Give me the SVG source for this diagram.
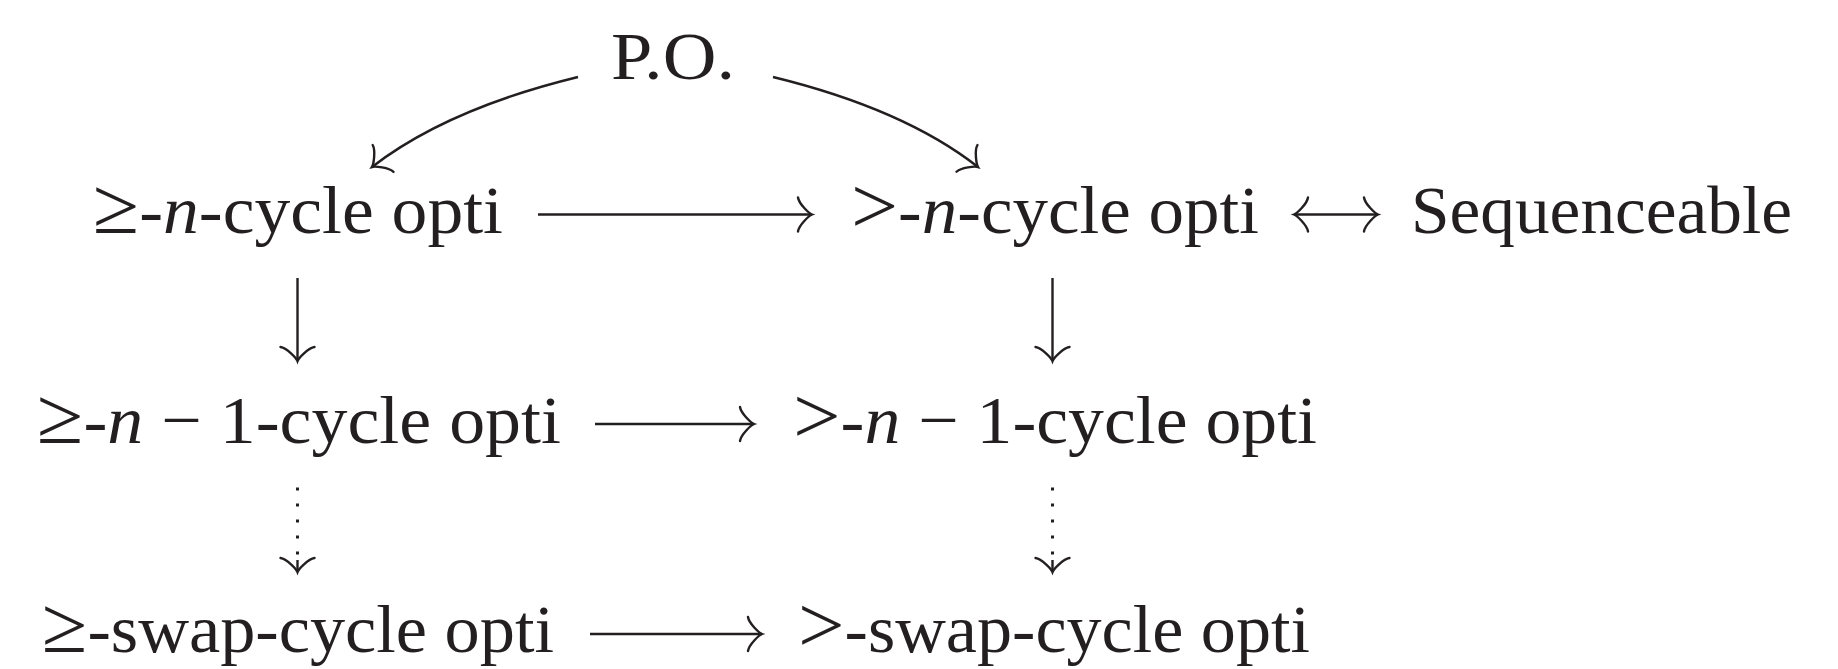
<svg xmlns="http://www.w3.org/2000/svg" width="1838" height="669" viewBox="0 0 1838 669">
  <style>
    .lbl { font-family: "Liberation Serif", "Times New Roman", serif; font-size: 68px; fill: #231f20; }
    .mi { font-style: italic; }
    .rel { font-size: 80px; }
    .edge { fill: none; stroke: #231f20; stroke-width: 2.4; }
    .dots { fill: none; stroke: #231f20; stroke-width: 3; stroke-dasharray: 3 13; }
  </style>
  <defs>
    <!-- Computer-Modern style arrow tip with curved barbs -->
    <marker id="tip" markerUnits="userSpaceOnUse" orient="auto-start-reverse" refX="0" refY="0" markerWidth="20" markerHeight="40" overflow="visible">
      <path d="M -14,-17 C -13.1,-10.6 -2.8,-1.06 0,0 C -2.8,1.06 -13.1,10.6 -14,17" fill="none" stroke="#231f20" stroke-width="2.4" stroke-linecap="round"/>
    </marker>
  </defs>

  <g id="po"><text class="lbl" x="611" y="79" textLength="124" lengthAdjust="spacingAndGlyphs">P.O.</text></g>

  <g id="geq-n"><text class="lbl" x="93" y="233" textLength="410" lengthAdjust="spacingAndGlyphs"><tspan class="rel">≥</tspan>-<tspan class="mi">n</tspan>-cycle opti</text></g>
  <g id="gt-n"><text class="lbl" x="851" y="233" textLength="408" lengthAdjust="spacingAndGlyphs"><tspan class="rel">&gt;</tspan>-<tspan class="mi">n</tspan>-cycle opti</text></g>
  <g id="seq"><text class="lbl" x="1411" y="233" textLength="381" lengthAdjust="spacingAndGlyphs">Sequenceable</text></g>

  <g id="geq-n1"><text class="lbl" x="37" y="443" textLength="524" lengthAdjust="spacingAndGlyphs"><tspan class="rel">≥</tspan>-<tspan class="mi">n</tspan> − 1-cycle opti</text></g>
  <g id="gt-n1"><text class="lbl" x="793" y="443" textLength="524" lengthAdjust="spacingAndGlyphs"><tspan class="rel">&gt;</tspan>-<tspan class="mi">n</tspan> − 1-cycle opti</text></g>

  <g id="geq-swap"><text class="lbl" x="42" y="652" textLength="512" lengthAdjust="spacingAndGlyphs"><tspan class="rel">≥</tspan>-swap-cycle opti</text></g>
  <g id="gt-swap"><text class="lbl" x="798" y="652" textLength="512" lengthAdjust="spacingAndGlyphs"><tspan class="rel">&gt;</tspan>-swap-cycle opti</text></g>

  <g id="connectors">
    <path class="edge" d="M 578,77 Q 447,109 372,167" marker-end="url(#tip)"/>
    <path class="edge" d="M 773,77 Q 904,109 978,167" marker-end="url(#tip)"/>
    <path class="edge" d="M 538,214.5 L 812,214.5" marker-end="url(#tip)"/>
    <path class="edge" d="M 1294,214.5 L 1378,214.5" marker-start="url(#tip)" marker-end="url(#tip)"/>
    <path class="edge" d="M 297.5,278 L 297.5,361" marker-end="url(#tip)"/>
    <path class="edge" d="M 1052.5,278 L 1052.5,361" marker-end="url(#tip)"/>
    <path class="edge" d="M 595,424 L 754,424" marker-end="url(#tip)"/>
    <path class="edge" d="M 590,634 L 762,634" marker-end="url(#tip)"/>
    <path class="dots" d="M 297.5,487.5 L 297.5,556"/>
    <path class="edge" d="M 297.5,560 L 297.5,572" stroke="none" marker-end="url(#tip)"/>
    <path class="dots" d="M 1052.5,487.5 L 1052.5,556"/>
    <path class="edge" d="M 1052.5,560 L 1052.5,572" stroke="none" marker-end="url(#tip)"/>
  </g>
</svg>
